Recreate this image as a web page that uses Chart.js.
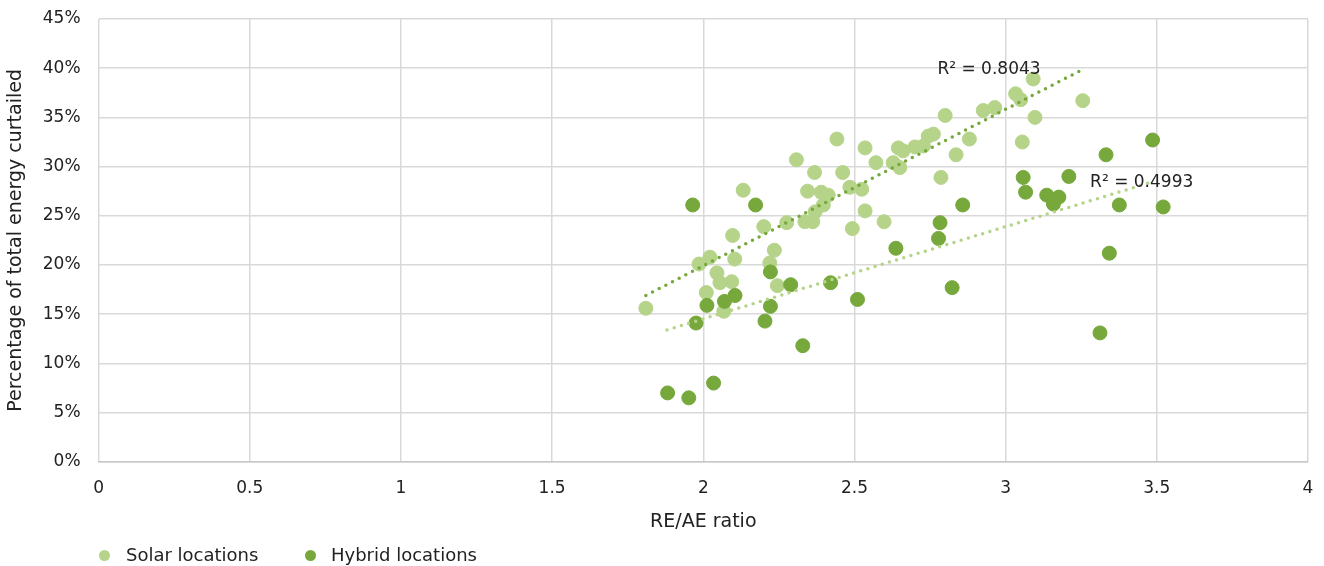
<!DOCTYPE html>
<html>
<head>
<meta charset="utf-8">
<script src="https://cdn.jsdelivr.net/npm/chart.js@4/dist/chart.umd.min.js"></script>
<style>
  body { margin: 0; background: #fff; }
  #wrap { position: relative; width: 1324px; height: 566px; }
  #legend { position: absolute; top: 544px; left: 0; font: 18px 'DejaVu Sans', sans-serif; color: #222; }
  #legend span { position: absolute; white-space: nowrap; line-height: 22px; }
  #legend i { position: absolute; width: 11px; height: 11px; border-radius: 50%; top: 6px; }
</style>
</head>
<body>
<div id="wrap">
  <canvas id="chart"></canvas>
  <div id="legend"></div>
</div>
<script>
// RE/AE ratio vs. % curtailed
const solarX = [1.81, 1.986, 2.022, 2.01, 2.045, 2.055, 2.068, 2.094, 2.097, 2.104, 2.132, 2.20, 2.22, 2.235,
  2.245, 2.276, 2.308, 2.336, 2.345, 2.362, 2.37, 2.368, 2.39, 2.397, 2.413, 2.442, 2.461, 2.485, 2.493, 2.524,
  2.535, 2.535, 2.571, 2.598, 2.628, 2.645, 2.65, 2.661, 2.70, 2.728, 2.744, 2.761, 2.786, 2.80, 2.836, 2.88,
  2.926, 2.964, 3.033, 3.05, 3.055, 3.091, 3.097, 3.255];
const solarY = [15.6, 20.1, 20.8, 17.2, 19.2, 18.2, 15.3, 18.3, 23.0, 20.6, 27.6, 23.9, 20.2, 21.5,
  17.9, 24.3, 30.7, 24.4, 27.5, 24.4, 25.4, 29.4, 27.4, 26.1, 27.1, 32.8, 29.4, 27.9, 23.7, 27.7,
  25.5, 31.9, 30.4, 24.4, 30.4, 31.9, 29.9, 31.6, 32.0, 32.1, 33.1, 33.3, 28.9, 35.2, 31.2, 32.8,
  35.7, 36.0, 37.4, 36.8, 32.5, 38.9, 35.0, 36.7];

const hybridX = [1.882, 1.952, 1.965, 1.976, 2.012, 2.034, 2.07, 2.105, 2.173, 2.204, 2.222, 2.222, 2.289,
  2.329, 2.421, 2.51, 2.637, 2.778, 2.783, 2.823, 2.858, 3.058, 3.066, 3.136, 3.158, 3.176, 3.209, 3.312,
  3.332, 3.343, 3.376, 3.486, 3.521];
const hybridY = [7.0, 6.5, 26.1, 14.1, 15.9, 8.0, 16.3, 16.9, 26.1, 14.3, 19.3, 15.8, 18.0,
  11.8, 18.2, 16.5, 21.7, 22.7, 24.3, 17.7, 26.1, 28.9, 27.4, 27.1, 26.2, 26.9, 29.0, 13.1,
  31.2, 21.2, 26.1, 32.7, 25.9];

// trendline end points as seen in the picture
const trendSteepX = [1.81, 3.25];
const trendSteepY = [16.9, 39.8];
const trendFlatX = [1.88, 3.47];
const trendFlatY = [13.4, 28.3];

const labelSteep = 'R² = 0.8043';
const labelFlat = 'R² = 0.4993';

const xTicks = [0, 0.5, 1, 1.5, 2, 2.5, 3, 3.5, 4];

const LIGHT = '#b5d48a';
const DARK = '#76a83c';
const FONT = "'DejaVu Sans', sans-serif";
const NONE = 'rgba(0,0,0,0)';

const pts = (xs, ys) => xs.map((x, i) => ({ x: x, y: ys[i] }));

// legend below the chart
const legendItems = [
  { text: 'Solar locations', color: LIGHT, dot: 99, label: 126 },
  { text: 'Hybrid locations', color: DARK, dot: 304.5, label: 331 }
];
const legendEl = document.getElementById('legend');
legendItems.forEach(it => {
  const dot = document.createElement('i');
  dot.style.left = it.dot + 'px';
  dot.style.background = it.color;
  const txt = document.createElement('span');
  txt.style.left = it.label + 'px';
  txt.textContent = it.text;
  legendEl.appendChild(dot);
  legendEl.appendChild(txt);
});

// R² labels, placed with the chart's own scales
const r2Labels = {
  id: 'r2Labels',
  afterDatasetsDraw(chart) {
    const { ctx, scales } = chart;
    ctx.save();
    ctx.fillStyle = '#222';
    ctx.font = '17px ' + FONT;
    ctx.textAlign = 'center';
    ctx.textBaseline = 'middle';
    ctx.fillText(labelSteep, scales.x.getPixelForValue(2.945), scales.y.getPixelForValue(39.9));
    ctx.fillText(labelFlat, scales.x.getPixelForValue(3.45), scales.y.getPixelForValue(28.4));
    ctx.restore();
  }
};

new Chart(document.getElementById('chart'), {
  type: 'scatter',
  data: {
    datasets: [
      {
        label: 'trend1', type: 'line', data: pts(trendSteepX, trendSteepY),
        borderColor: DARK, borderWidth: 3.5, borderDash: [0, 7.5], borderCapStyle: 'round',
        pointRadius: 0, fill: false
      },
      {
        label: 'trend2', type: 'line', data: pts(trendFlatX, trendFlatY),
        borderColor: LIGHT, borderWidth: 3.5, borderDash: [0, 7.5], borderCapStyle: 'round',
        pointRadius: 0, fill: false
      },
      {
        label: 'Hybrid locations', data: pts(hybridX, hybridY),
        backgroundColor: DARK, borderColor: DARK, pointRadius: 7, pointHoverRadius: 7
      },
      {
        label: 'Solar locations', data: pts(solarX, solarY),
        backgroundColor: LIGHT, borderColor: LIGHT, pointRadius: 7, pointHoverRadius: 7
      }
    ]
  },
  options: {
    responsive: true,
    maintainAspectRatio: false,
    animation: false,
    layout: { padding: { left: 2, right: 16, top: 19, bottom: 29 } },
    plugins: {
      tooltip: { enabled: false },
      legend: { display: false }
    },
    scales: {
      x: {
        type: 'linear',
        min: 0, max: 4,
        afterBuildTicks: axis => { axis.ticks = xTicks.map(v => ({ value: v })); },
        grid: { color: '#d9d9d9', lineWidth: 1.5, drawTicks: true, tickLength: 13, tickColor: NONE },
        border: { color: '#c8c8c8', width: 1.5 },
        ticks: { color: '#222', padding: 4, font: { family: FONT, size: 17 }, callback: v => String(v) },
        title: { display: true, text: 'RE/AE ratio', color: '#222', padding: { top: 7, bottom: 4 }, font: { family: FONT, size: 19 } }
      },
      y: {
        min: 0, max: 45,
        grid: { color: '#d9d9d9', lineWidth: 1.5, drawTicks: true, tickLength: 14, tickColor: NONE },
        border: { display: false },
        ticks: { stepSize: 5, color: '#222', padding: 4, font: { family: FONT, size: 17 }, callback: v => v + '%' },
        title: { display: true, text: 'Percentage of total energy curtailed', color: '#222', padding: { top: 3, bottom: 11 }, font: { family: FONT, size: 19 } }
      }
    }
  },
  plugins: [r2Labels]
});
</script>
</body>
</html>
